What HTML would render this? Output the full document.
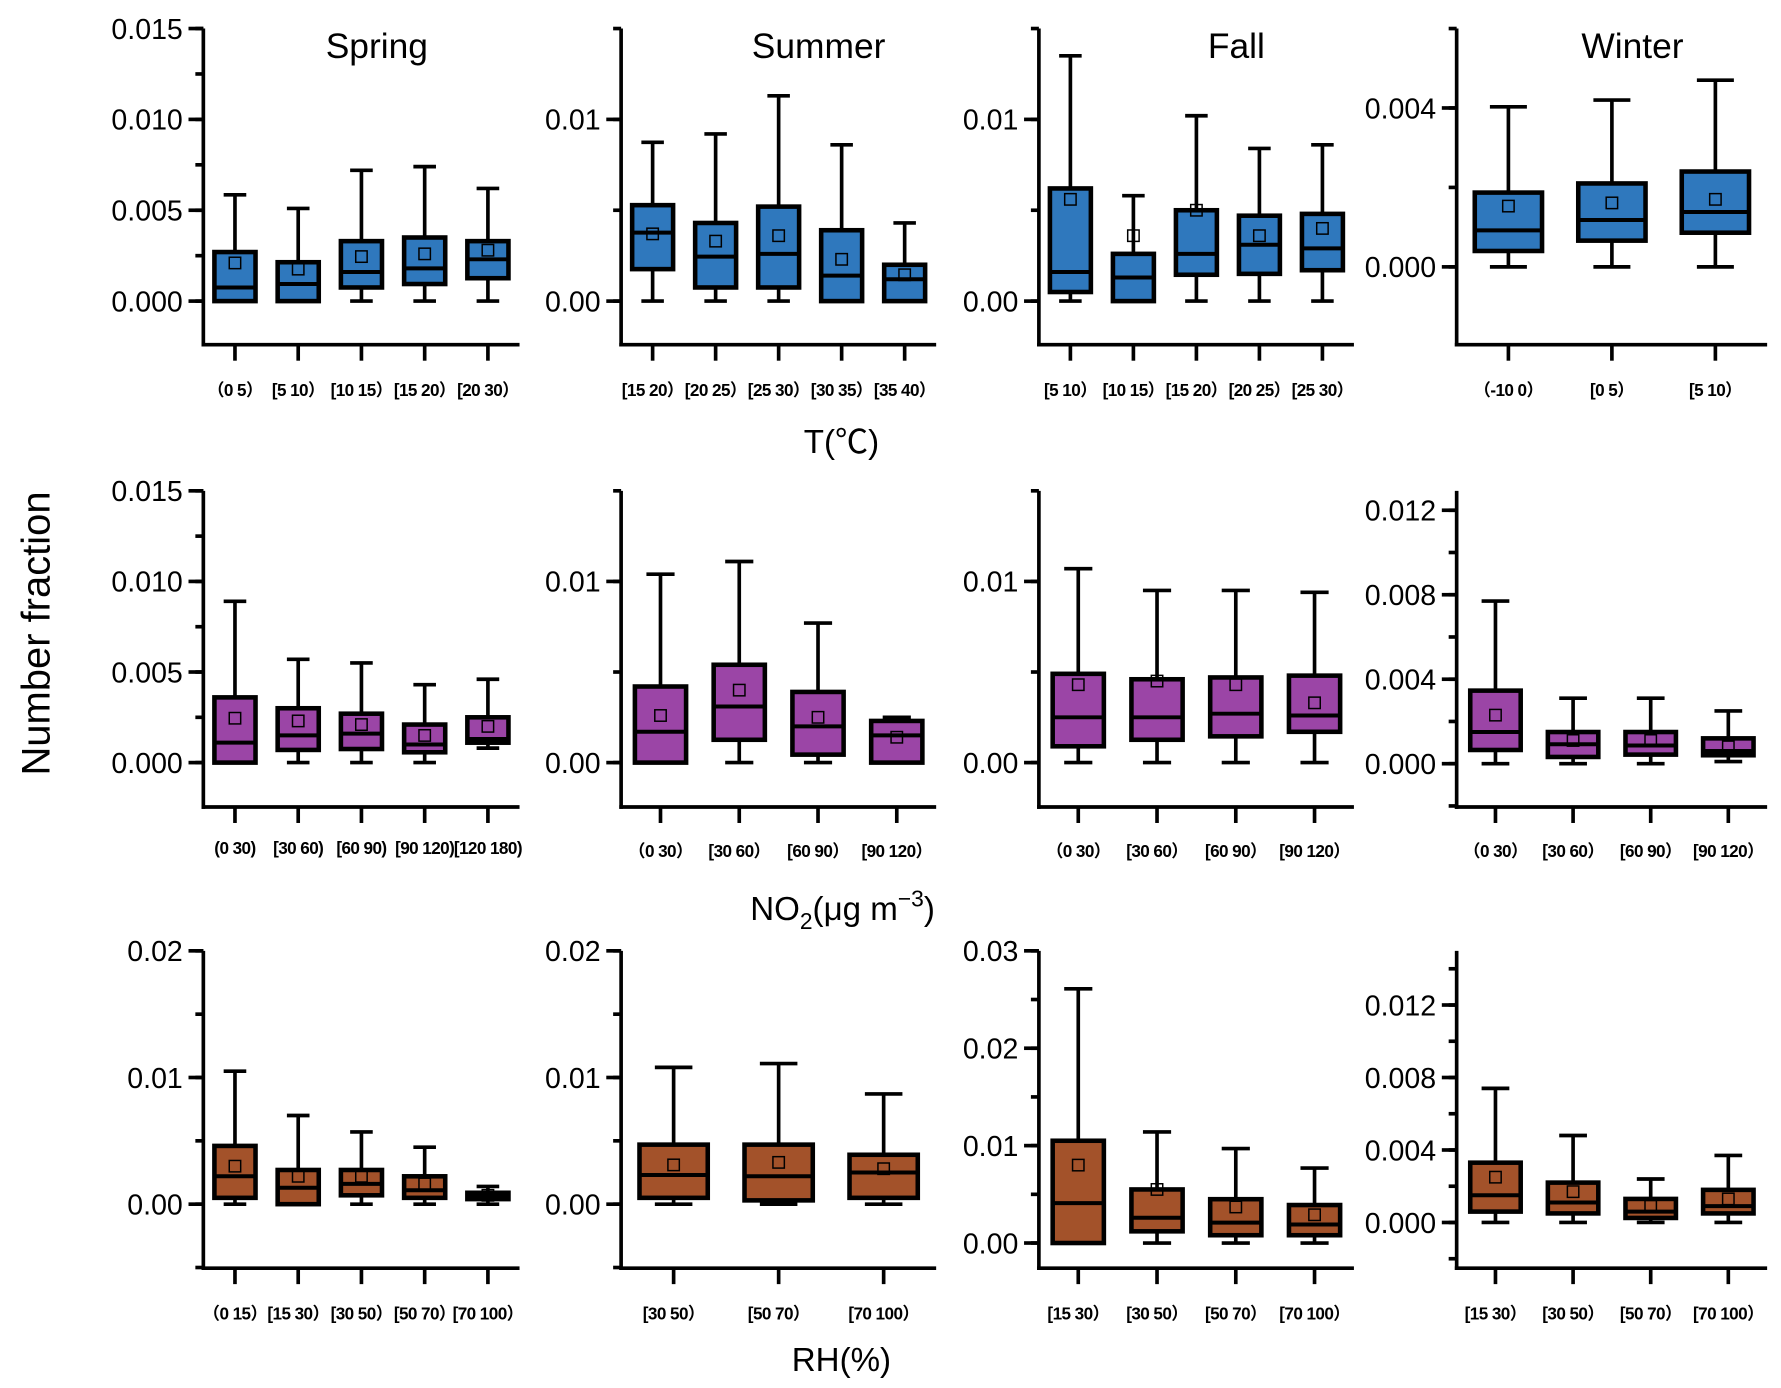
<!DOCTYPE html>
<html><head><meta charset="utf-8"><style>
html,body{margin:0;padding:0;background:#fff}
svg{display:block}
text{font-family:"Liberation Sans","Noto Sans CJK SC",sans-serif;fill:#000}
</style></head><body>
<svg id="fig" width="1781" height="1388" viewBox="0 0 1560 1216" xmlns="http://www.w3.org/2000/svg">
<text x="0" y="0" transform="translate(43,555) rotate(-90)" font-size="35" text-anchor="middle">Number fraction</text>
<text x="330" y="51" font-size="31" text-anchor="middle">Spring</text>
<text x="717" y="51" font-size="31" text-anchor="middle">Summer</text>
<text x="1083" y="51" font-size="31" text-anchor="middle">Fall</text>
<text x="1430" y="51" font-size="31" text-anchor="middle">Winter</text>
<text x="737" y="397" font-size="29" text-anchor="middle">T(℃)</text>
<text x="738" y="806" font-size="29" text-anchor="middle">NO<tspan font-size="20" dy="8">2</tspan><tspan dy="-8">(μg m</tspan><tspan font-size="20" dy="-12">−3</tspan><tspan dy="12">)</tspan></text>
<text x="737" y="1201" font-size="29" text-anchor="middle">RH(%)</text>
</svg>
<script>
// categories
const catT_sp=["（0 5）","[5 10）","[10 15）","[15 20）","[20 30）"];
const catT_su=["[15 20）","[20 25）","[25 30）","[30 35）","[35 40）"];
const catT_fa=["[5 10）","[10 15）","[15 20）","[20 25）","[25 30）"];
const catT_wi=["（-10 0）","[0 5）","[5 10）"];
const catN_sp=["(0 30)","[30 60)","[60 90)","[90 120)","[120 180)"];
const catN_4=["（0 30）","[30 60）","[60 90）","[90 120）"];
const catR_sp=["（0 15）","[15 30）","[30 50）","[50 70）","[70 100）"];
const catR_su=["[30 50）","[50 70）","[70 100）"];
const catR_4=["[15 30）","[30 50）","[50 70）","[70 100）"];
// values: [min, q1, median, q3, max, mean]
const T_sp=[[0,0,0.00075,0.0027,0.00585,0.0021],[0,0,0.00094,0.00214,0.0051,0.00176],[0,0.00075,0.0016,0.0033,0.0072,0.00245],[0,0.00094,0.0018,0.0035,0.0074,0.0026],[0,0.00126,0.0023,0.0033,0.0062,0.0028]];
const T_su=[[0,0.00176,0.00377,0.00528,0.00874,0.0037],[0,0.00075,0.00245,0.0043,0.0092,0.0033],[0,0.00075,0.0026,0.0052,0.0113,0.0036],[0,0,0.0014,0.0039,0.0086,0.0023],[0,0,0.0012,0.002,0.0043,0.00145]];
const T_fa=[[0,0.0005,0.0016,0.0062,0.0135,0.0056],[0,0,0.0013,0.0026,0.0058,0.0036],[0,0.00145,0.0026,0.005,0.0102,0.005],[0,0.0015,0.0031,0.0047,0.0084,0.0036],[0,0.0017,0.0029,0.0048,0.0086,0.004]];
const T_wi=[[0,0.0004,0.00092,0.00187,0.00403,0.00153],[0,0.00066,0.00118,0.0021,0.0042,0.00161],[0,0.00086,0.00138,0.0024,0.0047,0.0017]];
const N_sp=[[0,0,0.0011,0.0036,0.0089,0.00245],[0,0.0007,0.0015,0.003,0.0057,0.0023],[0,0.00075,0.0016,0.0027,0.0055,0.0021],[0,0.00057,0.001,0.0021,0.0043,0.0015],[0.0008,0.0011,0.0013,0.0025,0.0046,0.002]];
const N_su=[[0,0,0.0017,0.0042,0.0104,0.0026],[0,0.00126,0.0031,0.0054,0.0111,0.004],[0,0.00044,0.002,0.0039,0.0077,0.0025],[0,0,0.0015,0.0023,0.0025,0.0014]];
const N_fa=[[0,0.0009,0.0025,0.0049,0.0107,0.0043],[0,0.00126,0.0025,0.0046,0.0095,0.0045],[0,0.00145,0.0027,0.0047,0.0095,0.0043],[0,0.0017,0.0026,0.0048,0.0094,0.0033]];
const N_wi=[[0,0.00065,0.0015,0.00346,0.0077,0.0023],[0,0.00032,0.00092,0.0015,0.0031,0.0011],[0,0.00043,0.00086,0.0015,0.0031,0.0011],[0.0001,0.0004,0.0006,0.0012,0.0025,0.0008]];
const R_sp=[[0,0.0005,0.0022,0.0046,0.0105,0.003],[0,0,0.0013,0.0027,0.007,0.0022],[0,0.0007,0.0016,0.0027,0.0057,0.0022],[0,0.0005,0.0011,0.0022,0.0045,0.0016],[0,0.0004,0.0006,0.0009,0.0014,0.0007]];
const R_su=[[0,0.0005,0.0023,0.0047,0.0108,0.0031],[0,0.0003,0.0022,0.0047,0.0111,0.0033],[0,0.0005,0.0025,0.0039,0.0087,0.0028]];
const R_fa=[[0,0,0.0041,0.0105,0.0261,0.008],[0,0.0012,0.0026,0.0055,0.0114,0.0055],[0,0.0008,0.0021,0.0045,0.0097,0.0037],[0,0.0008,0.0019,0.0039,0.0077,0.0029]];
const R_wi=[[0,0.0006,0.0015,0.0033,0.0074,0.0025],[0,0.0005,0.0011,0.0022,0.0048,0.0017],[0,0.00025,0.0006,0.0013,0.0024,0.0009],[0,0.0005,0.0009,0.0018,0.0037,0.0013]];
// tick labels
const tk015=["0.000","0.005","0.010","0.015"];
const tk01=["0.00","0.01"];
const tkW1=["0.000","0.004"];
const tkW2=["0.000","0.004","0.008","0.012"];
const tk02=["0.00","0.01","0.02"];
const tk03=["0.00","0.01","0.02","0.03"];

const BLUE="#2f78bd",PURPLE="#9b45a6",BROWN="#a3522a";
const NS="http://www.w3.org/2000/svg";
const svg=document.getElementById('fig');
function mk(tag,attrs,parent){const e=document.createElementNS(NS,tag);for(const k in attrs)e.setAttribute(k,attrs[k]);(parent||svg).appendChild(e);return e;}

const panels=[
 {id:"spring-temp",x0:178,x1:455,top:25,bot:302,d:[-0.0024,0.015],ticks:tk015,minor:0.0025,cats:catT_sp,vals:T_sp,col:BLUE,ly:341},
 {id:"summer-temp",x0:544,x1:820,top:25,bot:302,d:[-0.0024,0.015],ticks:tk01,minor:0.005,cats:catT_su,vals:T_su,col:BLUE,ly:341},
 {id:"fall-temp",x0:910,x1:1186,top:25,bot:302,d:[-0.0024,0.015],ticks:tk01,minor:0.005,cats:catT_fa,vals:T_fa,col:BLUE,ly:341},
 {id:"winter-temp",x0:1276,x1:1548,top:25,bot:302,d:[-0.00196,0.006],ticks:tkW1,minor:0.002,cats:catT_wi,vals:T_wi,col:BLUE,ly:341},
 {id:"spring-no2",x0:178,x1:455,top:430,bot:707,d:[-0.00245,0.015],ticks:tk015,minor:0.0025,cats:catN_sp,vals:N_sp,col:PURPLE,ly:742},
 {id:"summer-no2",x0:544,x1:820,top:430,bot:707,d:[-0.00245,0.015],ticks:tk01,minor:0.005,cats:catN_4,vals:N_su,col:PURPLE,ly:745},
 {id:"fall-no2",x0:910,x1:1186,top:430,bot:707,d:[-0.00245,0.015],ticks:tk01,minor:0.005,cats:catN_4,vals:N_fa,col:PURPLE,ly:745},
 {id:"winter-no2",x0:1276,x1:1548,top:430,bot:707,d:[-0.00205,0.01292],ticks:tkW2,minor:0.002,cats:catN_4,vals:N_wi,col:PURPLE,ly:745},
 {id:"spring-rh",x0:178,x1:455,top:833,bot:1111,d:[-0.00505,0.02],ticks:tk02,minor:0.005,cats:catR_sp,vals:R_sp,col:BROWN,ly:1150},
 {id:"summer-rh",x0:544,x1:820,top:833,bot:1111,d:[-0.00505,0.02],ticks:tk02,minor:0.005,cats:catR_su,vals:R_su,col:BROWN,ly:1150},
 {id:"fall-rh",x0:910,x1:1186,top:833,bot:1111,d:[-0.00258,0.03],ticks:tk03,minor:0.005,cats:catR_4,vals:R_fa,col:BROWN,ly:1150},
 {id:"winter-rh",x0:1276,x1:1548,top:833,bot:1111,d:[-0.00252,0.01499],ticks:tkW2,minor:0.002,cats:catR_4,vals:R_wi,col:BROWN,ly:1150}
];

panels.forEach(p=>{
 const g=mk('g',{});
 
 
 const y=v=>p.bot-(v-p.d[0])/(p.d[1]-p.d[0])*(p.bot-p.top);
 const step=(p.x1-p.x0)/p.cats.length;
 const x=i=>p.x0+(i+0.5)*step;
 const mstart=Math.ceil(p.d[0]/p.minor-1e-9);
 for(let k=mstart;k*p.minor<=p.d[1]+1e-9;k++){
  const v=k*p.minor;
  const t=mk('line',{x1:p.x0-7,x2:p.x0,y1:y(v),y2:y(v),stroke:'#000','stroke-width':3.2},g);
  
  
 }
 p.ticks.forEach(s=>{
  const v=parseFloat(s);
  const t=mk('line',{x1:p.x0-13,x2:p.x0,y1:y(v),y2:y(v),stroke:'#000','stroke-width':3.2},g);
  
  
  const l=mk('text',{x:p.x0-18,y:y(v)+9,'font-size':25,'text-anchor':'end'},g);
  l.textContent=s;
  
  
 });
 const ya=mk('line',{x1:p.x0,x2:p.x0,y1:p.top,y2:p.bot+1.6,stroke:'#000','stroke-width':3.2},g);
 
 
 const xa=mk('line',{x1:p.x0-1.6,x2:p.x1,y1:p.bot,y2:p.bot,stroke:'#000','stroke-width':3.2},g);
 
 
 const bw=step*0.65, cw=bw*0.55;
 p.vals.forEach((b,i)=>{
  const cx=x(i);
  const xt=mk('line',{x1:cx,x2:cx,y1:p.bot,y2:p.bot+14,stroke:'#000','stroke-width':3.2},g);
  
  
  const xl=mk('text',{x:cx,y:p.ly+6,'font-size':15,'font-weight':'bold','text-anchor':'middle','textLength':'', 'letter-spacing':'-0.5'},g);
  xl.removeAttribute('textLength');
  xl.textContent=p.cats[i];
  
  
  const bx=mk('g',{},g);
  
  
  mk('line',{x1:cx,x2:cx,y1:y(b[0]),y2:y(b[1]),stroke:'#000','stroke-width':3.2},bx);
  mk('line',{x1:cx,x2:cx,y1:y(b[3]),y2:y(b[4]),stroke:'#000','stroke-width':3.2},bx);
  mk('line',{x1:cx-cw/2,x2:cx+cw/2,y1:y(b[0]),y2:y(b[0]),stroke:'#000','stroke-width':3.2},bx);
  mk('line',{x1:cx-cw/2,x2:cx+cw/2,y1:y(b[4]),y2:y(b[4]),stroke:'#000','stroke-width':3.2},bx);
  mk('rect',{x:cx-bw/2,y:y(b[3]),width:bw,height:Math.max(1,y(b[1])-y(b[3])),fill:p.col,stroke:'#000','stroke-width':4},bx);
  mk('line',{x1:cx-bw/2,x2:cx+bw/2,y1:y(b[2]),y2:y(b[2]),stroke:'#000','stroke-width':3.5},bx);
  mk('rect',{x:cx-5,y:y(b[5])-5,width:10,height:10,fill:'none',stroke:'#000','stroke-width':1.3},bx);
 });
});
</script>
</body></html>
